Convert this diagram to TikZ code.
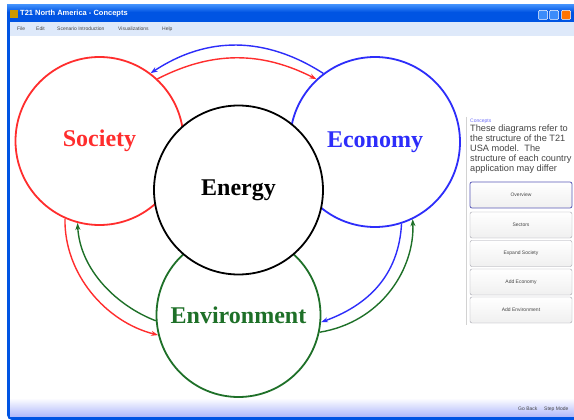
\documentclass[tikz,border=0pt]{standalone}
\usepackage{fontspec}
\setmainfont{Liberation Serif}
\newfontfamily\uifont{Liberation Sans}
\usetikzlibrary{arrows.meta}
\definecolor{socred}{RGB}{255,45,45}
\definecolor{ecoblue}{RGB}{45,45,250}
\definecolor{envgreen}{RGB}{30,112,40}
\definecolor{xpblue}{RGB}{0,84,227}
\definecolor{xplight}{RGB}{60,140,250}
\definecolor{menubg}{RGB}{222,233,250}
\definecolor{btnborder}{RGB}{160,160,170}
\definecolor{uitext}{RGB}{70,70,70}
\tikzset{
  bigcircle/.style={circle, minimum size=#1, inner sep=0pt, fill=white, line width=1.8pt,
     font=\fontsize{24}{24}\selectfont\bfseries},
  flow/.style={line width=1.4pt, -{Stealth[length=7pt,width=5pt]}},
  uibtn/.style={draw=btnborder, rounded corners=2pt, fill=white, top color=white, bottom color=gray!12,
     minimum width=102pt, minimum height=26pt, inner sep=0pt, text=uitext,
     font=\uifont\fontsize{5}{6}\selectfont},
  menuitem/.style={font=\uifont\fontsize{5}{6}\selectfont, text=uitext, inner sep=0pt, anchor=west},
  wbtn/.style={draw=white, rounded corners=1pt, minimum size=9pt, inner sep=0pt, line width=0.5pt}
}
\begin{document}
\begin{tikzpicture}[x=1pt,y=-1pt]
\useasboundingbox (0,0) rectangle (574,420);
% window frame
\fill[xpblue] (7,5) [rounded corners=5pt] -- (7,420) -- (580,420) -- (580,5) -- cycle;
\shade[top color=xplight, bottom color=xpblue] (7,5) rectangle (574,12);
\node[fill=orange!80!green, minimum size=8pt, inner sep=0pt] (icon) at (14,14) {};
\node[anchor=west, inner sep=0pt, text=white, font=\uifont\bfseries\fontsize{7.5}{8}\selectfont] (title) at (20,14) {T21 North America - Concepts};
\node[wbtn, fill=xplight] (bmin) at (543,15) {};
\node[wbtn, fill=xplight] (bmax) at (554,15) {};
\node[wbtn, fill=orange!90!red] (bclose) at (566,15) {};
% menu bar
\fill[menubg] (10,22) rectangle (574,36);
\node[menuitem] (mfile) at (17,29) {File};
\node[menuitem] (medit) at (36,29) {Edit};
\node[menuitem] (mscen) at (57,29) {Scenario Introduction};
\node[menuitem] (mvis) at (118,29) {Visualizations};
\node[menuitem] (mhelp) at (162,29) {Help};
% content
\fill[white] (10,36) rectangle (574,398);
\shade[top color=white, bottom color=menubg!80!blue] (10,398) rectangle (574,416);
\node[menuitem] (goback) at (518,409) {Go Back};
\node[menuitem] (stepmode) at (544,409) {Step Mode};
% panel
\draw[gray!35] (466,117) -- (466,325);
\node[menuitem, text=ecoblue!70] (ptitle) at (470,121) {Concepts};
\node[anchor=north west, inner sep=0pt, text=uitext, align=left,
      font=\uifont\fontsize{9.2}{10}\selectfont] (ptext) at (470,125)
      {These diagrams refer to\\the structure of the T21\\USA model.\ \ The\\structure of each country\\application may differ};
\node[uibtn, draw=ecoblue!45!gray, line width=0.8pt] (b1) at (521,195) {Overview};
\node[uibtn] (b2) at (521,225) {Sectors};
\node[uibtn] (b3) at (521,253.5) {Expand Society};
\node[uibtn] (b4) at (521,282) {Add Economy};
\node[uibtn] (b5) at (521,310) {Add Environment};
% circles
\node[bigcircle=168pt, draw=socred, text=socred] (soc) at (99.5,141) {Society};
\node[bigcircle=170pt, draw=ecoblue, text=ecoblue] (eco) at (375,142) {Economy};
\node[bigcircle=164pt, draw=envgreen, text=envgreen] (env) at (238.5,315) {Environment};
\node[bigcircle=169pt, draw=black, text=black] (ene) at (238.5,190) {Energy};
% arrows
\draw[flow, ecoblue] (eco.127) .. controls (265,36) and (207,36) .. (soc.53);
\draw[flow, socred] (soc.47) .. controls (212,51) and (261,51) .. (eco.133);
\draw[flow, socred] (soc.-114.5) .. controls (64,274) and (106,322) .. (env.-166.7);
\draw[flow, envgreen] (env.184) .. controls (117,306) and (80,270) .. (soc.-105);
\draw[flow, ecoblue] (eco.-72.4) .. controls (399,270) and (374,303) .. (env.-5.5);
\draw[flow, envgreen] (env.-12.5) .. controls (382,322) and (415,268) .. (eco.-64);
\end{tikzpicture}
\end{document}
